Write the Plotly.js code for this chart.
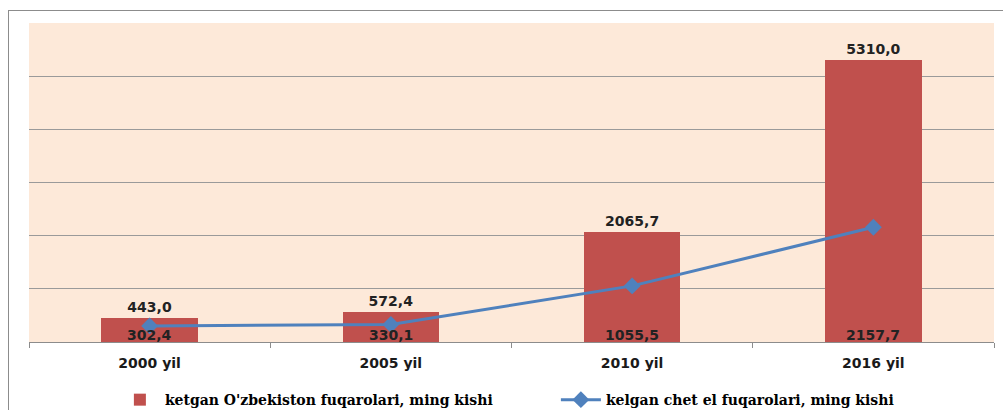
<!DOCTYPE html>
<html>
<head>
<meta charset="utf-8">
<script src="https://cdn.plot.ly/plotly-3.0.1.min.js"></script>
<style>
  html, body { margin: 0; padding: 0; background: #fff; }
  #wrap { position: relative; width: 1003px; height: 410px; overflow: hidden; }
  #frame { position: absolute; left: 8px; top: 10px; width: 1100px; height: 500px; border: 1px solid #8c8c8c; box-sizing: border-box; }
  #chart { position: absolute; left: 0; top: 0; width: 1003px; height: 410px; }
</style>
</head>
<body>
<div id="wrap">
  <div id="frame"></div>
  <div id="chart"></div>
</div>
<script>
const categories = ["2000 yil", "2005 yil", "2010 yil", "2016 yil"];
const leftCitizens = [443.0, 572.4, 2065.7, 5310.0];     // ketgan O'zbekiston fuqarolari
const arrivedForeign = [302.4, 330.1, 1055.5, 2157.7];   // kelgan chet el fuqarolari
const seriesNames = ["ketgan O'zbekiston fuqarolari, ming kishi", "kelgan chet el fuqarolari, ming kishi"];

const fmt = v => v.toFixed(1).replace(".", ",");

const labelFont = {family: "DejaVu Sans, Verdana, sans-serif", size: 14, color: "#222", weight: "bold"};

const traces = [
  {
    type: "bar",
    name: seriesNames[0],
    x: categories,
    y: leftCitizens,
    width: 0.4,
    marker: {color: "#C0504D", line: {color: "#C0504D", width: 0}},
    text: leftCitizens.map(fmt),
    textposition: "outside",
    textfont: labelFont,
    cliponaxis: false,
    hoverinfo: "x+y"
  },
  {
    type: "scatter",
    mode: "lines+markers",
    name: seriesNames[1],
    x: categories,
    y: arrivedForeign,
    line: {color: "#4F81BD", width: 3},
    marker: {symbol: "diamond", size: 13, color: "#4F81BD"},
    hoverinfo: "x+y"
  }
];

const annotations = categories.map((c, i) => ({
  x: c, y: 0, xref: "x", yref: "y",
  yanchor: "bottom", yshift: -3,
  text: fmt(arrivedForeign[i]),
  showarrow: false,
  font: labelFont
}));

const layout = {
  width: 1003, height: 410,
  margin: {l: 29, r: 9, t: 23, b: 68, autoexpand: false},
  paper_bgcolor: "rgba(0,0,0,0)",
  plot_bgcolor: "#FDE9D9",
  separators: ", ",
  showlegend: true,
  bargap: 0,
  xaxis: {
    type: "category",
    showgrid: false,
    showline: true, linecolor: "#8c8c8c", linewidth: 1,
    ticks: "outside", tickson: "boundaries", ticklen: 5, tickcolor: "#8c8c8c",
    ticklabelstandoff: 8,
    tickfont: {family: "DejaVu Sans, Verdana, sans-serif", size: 14, color: "#1a1a1a", weight: "bold"},
    fixedrange: true
  },
  yaxis: {
    range: [0, 6000], dtick: 1000,
    showgrid: true, gridcolor: "#9a9a9a", gridwidth: 1,
    zeroline: false, showline: false, showticklabels: false, ticks: "",
    fixedrange: true
  },
  legend: {
    orientation: "h",
    x: 0.089, xanchor: "left",
    y: -0.182, yanchor: "middle",
    bgcolor: "rgba(0,0,0,0)",
    entrywidth: 386, entrywidthmode: "pixels",
    font: {family: "DejaVu Serif, Liberation Serif, serif", size: 14, color: "#000", weight: "bold"},
    itemwidth: 40
  },
  annotations: annotations
};

Plotly.newPlot("chart", traces, layout, {displayModeBar: false, staticPlot: true});
</script>
</body>
</html>
